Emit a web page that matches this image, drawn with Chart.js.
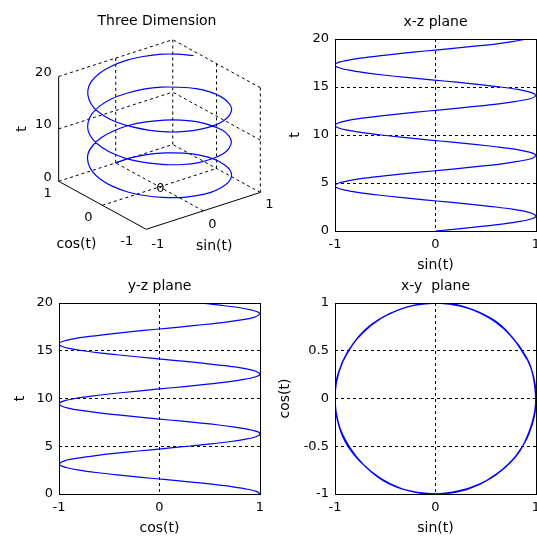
<!DOCTYPE html>
<html>
<head>
<meta charset="utf-8">
<script src="https://cdn.jsdelivr.net/npm/chart.js@4.4.1/dist/chart.umd.min.js"></script>
<style>
  html, body { margin: 0; padding: 0; background: #fff; width: 537px; height: 539px; overflow: hidden; }
  canvas { position: absolute; }
</style>
</head>
<body>
<canvas id="c3d" width="280" height="270" style="left:0;top:0"></canvas>
<canvas id="cxz" width="341" height="270" style="left:265px;top:9px"></canvas>
<canvas id="cyz" width="341" height="269" style="left:-11px;top:273px"></canvas>
<canvas id="cxy" width="341" height="269" style="left:265px;top:273px"></canvas>
<script>
// helix samples: t, sin(t), cos(t)
const tVals = [0, 0.25, 0.5, 0.75, 1, 1.25, 1.5, 1.75, 2, 2.25, 2.5, 2.75, 3, 3.25, 3.5, 3.75,
  4, 4.25, 4.5, 4.75, 5, 5.25, 5.5, 5.75, 6, 6.25, 6.5, 6.75, 7, 7.25, 7.5, 7.75,
  8, 8.25, 8.5, 8.75, 9, 9.25, 9.5, 9.75, 10, 10.25, 10.5, 10.75, 11, 11.25, 11.5, 11.75,
  12, 12.25, 12.5, 12.75, 13, 13.25, 13.5, 13.75, 14, 14.25, 14.5, 14.75, 15, 15.25, 15.5, 15.75,
  16, 16.25, 16.5, 16.75, 17, 17.25, 17.5, 17.75, 18, 18.25, 18.5, 18.75, 19, 19.25, 19.5, 19.75, 20];
const sinVals = [0, 0.25, 0.48, 0.68, 0.84, 0.95, 1, 0.98, 0.91, 0.78, 0.6, 0.38, 0.14, -0.11, -0.35, -0.57,
  -0.76, -0.9, -0.98, -1, -0.96, -0.86, -0.71, -0.51, -0.28, -0.03, 0.22, 0.45, 0.66, 0.82, 0.94, 0.99,
  0.99, 0.92, 0.8, 0.62, 0.41, 0.17, -0.08, -0.32, -0.54, -0.73, -0.88, -0.97, -1, -0.97, -0.88, -0.73,
  -0.54, -0.31, -0.07, 0.18, 0.42, 0.63, 0.8, 0.93, 0.99, 0.99, 0.93, 0.82, 0.65, 0.44, 0.21, -0.04,
  -0.29, -0.52, -0.71, -0.86, -0.96, -1, -0.98, -0.89, -0.75, -0.56, -0.34, -0.1, 0.15, 0.39, 0.61, 0.78, 0.91];
const cosVals = [1, 0.97, 0.88, 0.73, 0.54, 0.32, 0.07, -0.18, -0.42, -0.63, -0.8, -0.92, -0.99, -0.99, -0.94, -0.82,
  -0.65, -0.45, -0.21, 0.04, 0.28, 0.51, 0.71, 0.86, 0.96, 1, 0.98, 0.89, 0.75, 0.57, 0.35, 0.1,
  -0.15, -0.39, -0.6, -0.78, -0.91, -0.98, -1, -0.95, -0.84, -0.68, -0.48, -0.24, 0, 0.25, 0.48, 0.68,
  0.84, 0.95, 1, 0.98, 0.91, 0.78, 0.59, 0.38, 0.14, -0.11, -0.35, -0.58, -0.76, -0.9, -0.98, -1,
  -0.96, -0.86, -0.7, -0.5, -0.28, -0.03, 0.22, 0.45, 0.66, 0.83, 0.94, 0.99, 0.99, 0.92, 0.8, 0.62, 0.41];

// ticks
const tTicks = [0, 5, 10, 15, 20];
const tTickLabels = ['0', '5', '10', '15', '20'];
const unitTicks = [-1, 0, 1];
const unitTickLabels = ['-1', '0', '1'];
const halfTicks = [-1, -0.5, 0, 0.5, 1];
const halfTickLabels = ['-1', '-0.5', '0', '0.5', '1'];
const zTicks3d = [0, 10, 20];
const zTickLabels3d = ['0', '10', '20'];

Chart.defaults.font.family = "'DejaVu Sans', sans-serif";
Chart.defaults.font.size = 13;
Chart.defaults.color = '#000';
Chart.defaults.animation = false;
Chart.defaults.plugins.legend.display = false;
Chart.defaults.plugins.tooltip.enabled = false;

const BLUE = '#0000ff';

// solid frame round the plot area
const boxPlugin = {
  id: 'box',
  afterDraw(chart) {
    const a = chart.chartArea, ctx = chart.ctx;
    const l = Math.round(a.left), t = Math.round(a.top), r = Math.round(a.right), b = Math.round(a.bottom);
    ctx.save();
    ctx.strokeStyle = '#000';
    ctx.lineWidth = 1;
    ctx.strokeRect(l + 0.5, t + 0.5, r - l, b - t);
    ctx.restore();
  }
};

function axis(ticks, labels, min, max, title, titlePad, horizontal) {
  return {
    type: 'linear',
    min: min, max: max,
    afterBuildTicks: s => { s.ticks = ticks.map(v => ({ value: v })); },
    afterFit: s => { if (horizontal) s.height = 48; else s.width = 70; },
    ticks: {
      padding: 6,
      maxRotation: 0,
      autoSkip: false,
      font: { size: 13 },
      callback: v => labels[ticks.indexOf(v)]
    },
    grid: { color: '#000', lineWidth: 1, drawTicks: false },
    border: { display: false, dash: [3, 3] },
    title: {
      display: true, text: title,
      font: { size: 14 },
      padding: horizontal ? { top: 0, bottom: 5.6 } : { top: titlePad, bottom: 0 }
    }
  };
}

function planeChart(id, points, title, xCfg, yCfg) {
  new Chart(document.getElementById(id), {
    type: 'scatter',
    data: {
      datasets: [{
        data: points,
        showLine: true,
        borderColor: BLUE,
        borderWidth: 1.2,
        pointRadius: 0,
        tension: 0.3
      }]
    },
    options: {
      responsive: false,
      layout: { padding: { left: 0, right: 70, top: 0, bottom: 0 } },
      plugins: {
        title: {
          display: true, text: title, fullSize: false,
          font: { size: 14, weight: 'normal' },
          padding: { top: 4.6, bottom: 8.6 }
        }
      },
      scales: { x: xCfg, y: yCfg }
    },
    plugins: [boxPlugin]
  });
}

planeChart('cxz', tVals.map((t, i) => ({ x: sinVals[i], y: t })), 'x-z plane',
  axis(unitTicks, unitTickLabels, -1, 1, 'sin(t)', 0, true),
  axis(tTicks, tTickLabels, 0, 20, 't', 21.6, false));

planeChart('cyz', tVals.map((t, i) => ({ x: cosVals[i], y: t })), 'y-z plane',
  axis(unitTicks, unitTickLabels, -1, 1, 'cos(t)', 0, true),
  axis(tTicks, tTickLabels, 0, 20, 't', 22.6, false));

planeChart('cxy', tVals.map((t, i) => ({ x: sinVals[i], y: cosVals[i] })), 'x-y  plane',
  axis(unitTicks, unitTickLabels, -1, 1, 'sin(t)', 0, true),
  axis(halfTicks, halfTickLabels, -1, 1, 'cos(t)', 11.6, false));

// ---- 3D view (MATLAB default az -37.5, el 30) ----
const AZ = -37.5 * Math.PI / 180, EL = 30 * Math.PI / 180;
function project(x, y, t) {
  const Z = (t - 10) / 10;
  return {
    x: Math.cos(AZ) * x + Math.sin(AZ) * y,
    y: -Math.sin(EL) * Math.sin(AZ) * x + Math.sin(EL) * Math.cos(AZ) * y + Math.cos(EL) * Z
  };
}

const dashedEdges = [
  [[-1, 1, 0], [1, 1, 0]], [[-1, 1, 10], [1, 1, 10]], [[-1, 1, 20], [1, 1, 20]],
  [[1, -1, 0], [1, 1, 0]], [[1, -1, 10], [1, 1, 10]], [[1, -1, 20], [1, 1, 20]],
  [[0, 1, 0], [0, 1, 20]], [[1, 1, 0], [1, 1, 20]], [[1, 0, 0], [1, 0, 20]], [[1, -1, 0], [1, -1, 20]],
  [[0, -1, 0], [0, 1, 0]], [[-1, 0, 0], [1, 0, 0]]
];
const solidEdges = [
  [[-1, 1, 0], [-1, 1, 20]], [[-1, 1, 0], [-1, -1, 0]], [[-1, -1, 0], [1, -1, 0]]
];
const edgeSet = (seg, dash) => ({
  data: seg.map(p => project(p[0], p[1], p[2])),
  showLine: true, borderColor: '#000', borderWidth: 1, borderDash: dash,
  pointRadius: 0, order: 1, clip: false
});

const labels3d = {
  id: 'labels3d',
  afterDraw(chart) {
    const ctx = chart.ctx, sx = chart.scales.x, sy = chart.scales.y;
    const px = (x, y, t) => { const p = project(x, y, t); return [sx.getPixelForValue(p.x), sy.getPixelForValue(p.y)]; };
    ctx.save();
    ctx.fillStyle = '#000';
    ctx.textBaseline = 'middle';
    ctx.font = "13px 'DejaVu Sans', sans-serif";
    ctx.textAlign = 'right';
    zTicks3d.forEach((v, i) => { const [x, y] = px(-1, 1, v); ctx.fillText(zTickLabels3d[i], x - 7, y - 4); });
    unitTicks.forEach((v, i) => { const [x, y] = px(-1, v, 0); ctx.fillText(unitTickLabels[i], x - 7 - 3 * (1 - v), y + 12); });
    ctx.textAlign = 'left';
    unitTicks.forEach((v, i) => { const [x, y] = px(v, -1, 0); ctx.fillText(unitTickLabels[i], x + 5, y + 13.5 - 1.5 * v); });
    ctx.textAlign = 'center';
    let [ox, oy] = px(0, 0, 0);
    ctx.fillText('0', ox + 1, oy + 2);
    ctx.font = "14px 'DejaVu Sans', sans-serif";
    [ox, oy] = px(-1, 0, 0);
    ctx.fillText('cos(t)', ox - 26, oy + 39);
    [ox, oy] = px(0, -1, 0);
    ctx.fillText('sin(t)', ox + 11, oy + 35);
    ctx.fillText('Three Dimension', 157, 21);
    [ox, oy] = px(-1, 1, 10);
    ctx.translate(ox - 36, oy);
    ctx.rotate(-Math.PI / 2);
    ctx.fillText('t', 0, 0);
    ctx.restore();
  }
};

new Chart(document.getElementById('c3d'), {
  type: 'scatter',
  data: {
    datasets: [
      {
        data: tVals.map((t, i) => project(sinVals[i], cosVals[i], t)),
        showLine: true, borderColor: BLUE, borderWidth: 1.2, pointRadius: 0,
        tension: 0.3, order: 0, clip: false
      },
      ...dashedEdges.map(s => edgeSet(s, [3, 3])),
      ...solidEdges.map(s => edgeSet(s, []))
    ]
  },
  options: {
    responsive: false,
    layout: { padding: 0 },
    scales: {
      x: { type: 'linear', display: false, min: -2.218, max: 1.676 },
      y: { type: 'linear', display: false, min: -2.240, max: 2.223 }
    }
  },
  plugins: [labels3d]
});
</script>
</body>
</html>
